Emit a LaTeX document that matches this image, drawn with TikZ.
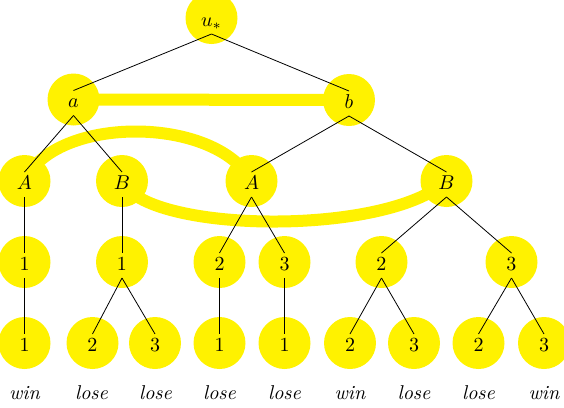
\documentclass[tikz,border=0pt]{standalone}
\usetikzlibrary{backgrounds}
\begin{document}
\begin{tikzpicture}[x=0.5pt,y=-0.5pt,
  nd/.style={circle,fill=yellow,minimum size=26pt,inner sep=0pt,text height=8pt,text depth=0pt},
  lnk/.style={yellow,line width=6pt},
  edg/.style={black,line width=0.4pt},
  lbl/.style={anchor=base,inner sep=0pt,font=\itshape}]
\useasboundingbox (0,0) rectangle (564,408);
% level 0/1
\node[nd] (u) at (211.5,18) {$u_*$};
\node[nd] (a) at (73.5,99.5) {$a$};
\node[nd] (b) at (349,100) {$b$};
% level 2
\node[nd] (A1) at (24.5,181) {$A$};
\node[nd] (B1) at (122,181) {$B$};
\node[nd] (A2) at (251.5,181) {$A$};
\node[nd] (B2) at (446.5,181) {$B$};
% level 3
\node[nd] (n1) at (24.5,262) {$1$};
\node[nd] (n2) at (122,262) {$1$};
\node[nd] (n3) at (219.5,262) {$2$};
\node[nd] (n4) at (284.5,262) {$3$};
\node[nd] (n5) at (381.5,262) {$2$};
\node[nd] (n6) at (511.5,262) {$3$};
% level 4
\node[nd] (m1) at (24.5,343) {$1$};
\node[nd] (m2) at (92.5,343) {$2$};
\node[nd] (m3) at (155,343) {$3$};
\node[nd] (m4) at (219.5,343) {$1$};
\node[nd] (m5) at (284.5,343) {$1$};
\node[nd] (m6) at (350,343) {$2$};
\node[nd] (m7) at (414,343) {$3$};
\node[nd] (m8) at (478.5,343) {$2$};
\node[nd] (m9) at (544,343) {$3$};
% labels
\node[lbl] (w1) at (24.5,399) {win};
\node[lbl] (w2) at (91.5,399) {lose};
\node[lbl] (w3) at (155.5,399) {lose};
\node[lbl] (w4) at (219.5,399) {lose};
\node[lbl] (w5) at (284.5,399) {lose};
\node[lbl] (w6) at (350,399) {win};
\node[lbl] (w7) at (414,399) {lose};
\node[lbl] (w8) at (478.5,399) {lose};
\node[lbl] (w9) at (544,399) {win};
% thick yellow links
\begin{scope}[on background layer]
\draw[lnk] (a.center) -- (b.center);
\draw[lnk] (A1.center) .. controls (55,115) and (215,115) .. (A2.center);
\draw[lnk] (B1.center) .. controls (145,233) and (385,237) .. (B2.center);
\end{scope}
% tree edges
\foreach \p/\c in {u/a,u/b,a/A1,a/B1,b/A2,b/B2,A1/n1,B1/n2,A2/n3,A2/n4,B2/n5,B2/n6,
  n1/m1,n2/m2,n2/m3,n3/m4,n4/m5,n5/m6,n5/m7,n6/m8,n6/m9}
  \draw[edg] ([yshift=-8pt]\p.center) -- ([yshift=4.5pt]\c.center);
\end{tikzpicture}
\end{document}
